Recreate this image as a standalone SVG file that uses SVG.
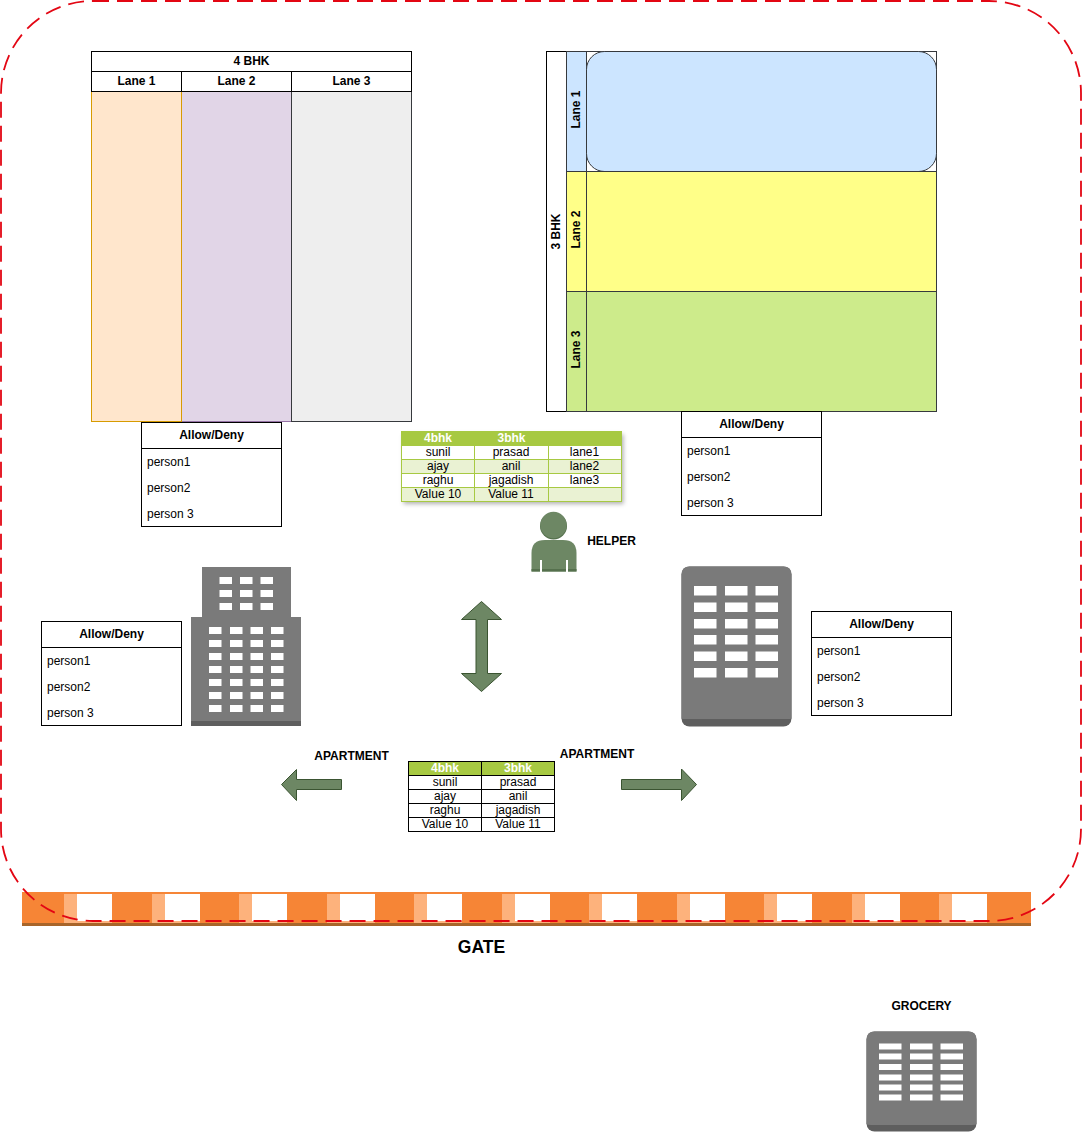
<svg xmlns="http://www.w3.org/2000/svg" width="1082" height="1132" viewBox="0 0 1082 1132">
<style>
text{font-family:"Liberation Sans",Arial,sans-serif;font-size:12px;fill:#000;text-anchor:middle}
.b{font-weight:bold}
.l{text-anchor:start}
.w{fill:#fff;font-weight:bold}
.ln{stroke:#000;fill:none}
.box{fill:#fff;stroke:#000}
.ar{fill:#6d8764;stroke:#3a5431;stroke-width:1}
.bg{fill:#7a7a7a}
.bd{fill:#5e5e5e}
.win{fill:#fff}
.gt{fill:#fff;stroke:#a7c942}
</style>
<defs>
<filter id="sh" x="-5%" y="-10%" width="110%" height="125%"><feDropShadow dx="2" dy="3" stdDeviation="2" flood-color="#000" flood-opacity="0.3"/></filter>
<g id="allow">
<rect class="box" x="0" y="0" width="140" height="104"/>
<line class="ln" x1="0" y1="26" x2="140" y2="26"/>
<text class="b" x="70" y="16">Allow/Deny</text>
<text class="l" x="5.500" y="43">person1</text>
<text class="l" x="5.500" y="69">person2</text>
<text class="l" x="5.500" y="95">person 3</text>
</g>
</defs>

<g id="gate">
<rect x="22" y="892" width="1009" height="34" fill="#f68536"/>
<rect x="22" y="923" width="1009" height="3" fill="#a8652a"/>
<g fill="#fdb27c">
<rect x="64" y="894" width="48" height="29"/><rect x="152" y="894" width="48" height="29"/><rect x="239" y="894" width="48" height="29"/><rect x="327" y="894" width="48" height="29"/><rect x="414" y="894" width="48" height="29"/><rect x="502" y="894" width="48" height="29"/><rect x="589" y="894" width="48" height="29"/><rect x="677" y="894" width="48" height="29"/><rect x="764" y="894" width="48" height="29"/><rect x="852" y="894" width="48" height="29"/><rect x="939" y="894" width="48" height="29"/>
</g>
<g fill="#fff">
<rect x="77" y="894" width="35" height="27"/><rect x="165" y="894" width="35" height="27"/><rect x="252" y="894" width="35" height="27"/><rect x="340" y="894" width="35" height="27"/><rect x="427" y="894" width="35" height="27"/><rect x="515" y="894" width="35" height="27"/><rect x="602" y="894" width="35" height="27"/><rect x="690" y="894" width="35" height="27"/><rect x="777" y="894" width="35" height="27"/><rect x="865" y="894" width="35" height="27"/><rect x="952" y="894" width="35" height="27"/>
</g>
<text x="481.500" y="953" class="b" style="font-size:17.500px">GATE</text>
</g>

<g id="boundary">
<rect x="1" y="1" width="1080" height="920" rx="92" ry="92" fill="none" stroke="#e30613" stroke-width="1.800" stroke-dasharray="16 8"/>
</g>

<g id="bhk4">
<rect x="181.500" y="91.500" width="110" height="330" fill="#e1d5e7" stroke="#9673a6"/>
<rect x="291.500" y="91.500" width="120" height="330" fill="#eeeeee" stroke="#36393d"/>
<rect x="91.500" y="91.500" width="90" height="330" fill="#ffe6cc" stroke="#d79b00"/>
<rect class="box" x="91.500" y="51.500" width="320" height="20"/>
<rect class="box" x="91.500" y="71.500" width="90" height="20"/>
<rect class="box" x="181.500" y="71.500" width="110" height="20"/>
<rect class="box" x="291.500" y="71.500" width="120" height="20"/>
<text class="b" x="251.500" y="65">4 BHK</text>
<text class="b" x="136.500" y="85">Lane 1</text>
<text class="b" x="236.500" y="85">Lane 2</text>
<text class="b" x="351.500" y="85">Lane 3</text>
</g>

<g id="bhk3">
<rect class="box" x="546.500" y="51.500" width="390" height="360"/>
<rect x="566.500" y="51.500" width="20" height="120" fill="#cce5ff" stroke="#36393d"/>
<rect x="566.500" y="171.500" width="20" height="120" fill="#ffff88" stroke="#36393d"/>
<rect x="566.500" y="291.500" width="20" height="120" fill="#cdeb8b" stroke="#36393d"/>
<rect x="586.500" y="51.500" width="350" height="120" fill="#fff" stroke="#36393d"/>
<rect x="586.500" y="51.500" width="350" height="120" rx="18" ry="18" fill="#cce5ff" stroke="#36393d"/>
<rect x="586.500" y="171.500" width="350" height="120" fill="#ffff88" stroke="#36393d"/>
<rect x="586.500" y="291.500" width="350" height="120" fill="#cdeb8b" stroke="#36393d"/>
<text class="b" transform="translate(560 231.500) rotate(-90)">3 BHK</text>
<text class="b" transform="translate(580 109.500) rotate(-90)">Lane 1</text>
<text class="b" transform="translate(580 229.500) rotate(-90)">Lane 2</text>
<text class="b" transform="translate(580 349.500) rotate(-90)">Lane 3</text>
</g>

<g id="allow1"><use href="#allow" x="141.500" y="422.500"/></g>
<g id="allow2"><use href="#allow" x="681.500" y="411.500"/></g>
<g id="allow3"><use href="#allow" x="811.500" y="611.500"/></g>
<g id="allow4"><use href="#allow" x="41.500" y="621.500"/></g>

<g id="table1">
<g filter="url(#sh)">
<rect x="401.500" y="431.500" width="220" height="69.500" fill="#fff"/>
</g>
<rect x="401.500" y="431.500" width="220" height="14" fill="#a7c942" stroke="#a7c942"/>
<rect class="gt" x="401.500" y="445.500" width="220" height="14"/>
<rect x="401.500" y="459.500" width="220" height="14" fill="#eaf2d3" stroke="#a7c942"/>
<rect class="gt" x="401.500" y="473.500" width="220" height="14"/>
<rect x="401.500" y="487.500" width="220" height="14" fill="#eaf2d3" stroke="#a7c942"/>
<line x1="474.500" y1="431.500" x2="474.500" y2="501.500" stroke="#a7c942"/>
<line x1="548.500" y1="431.500" x2="548.500" y2="501.500" stroke="#a7c942"/>
<text class="w" x="438" y="441.500">4bhk</text>
<text class="w" x="511.500" y="441.500">3bhk</text>
<text x="438" y="455.500">sunil</text><text x="511" y="455.500">prasad</text><text x="584.500" y="455.500">lane1</text>
<text x="438" y="469.500">ajay</text><text x="511" y="469.500">anil</text><text x="584.500" y="469.500">lane2</text>
<text x="438" y="483.500">raghu</text><text x="511" y="483.500">jagadish</text><text x="584.500" y="483.500">lane3</text>
<text x="438" y="497.500">Value 10</text><text x="511" y="497.500">Value 11</text>
</g>

<g id="helper">
<circle cx="553.500" cy="526" r="13.500" fill="#55704d"/>
<circle cx="553.500" cy="525" r="13.200" fill="#6d8764"/>
<path d="M531.500 571.500V553Q531.500 540 545 540H563Q576.500 540 576.500 553V571.500Z" fill="#6d8764"/>
<rect x="531.500" y="569" width="45" height="2.500" fill="#55704d"/>
<rect x="540" y="560" width="2" height="12" fill="#fff"/>
<rect x="566" y="560" width="2" height="12" fill="#fff"/>
<text class="b" x="611.500" y="545">HELPER</text>
</g>

<g id="building-left">
<rect class="bg" x="202" y="567" width="89" height="51"/>
<rect class="bg" x="191" y="617" width="110" height="109"/>
<rect class="bd" x="191" y="721" width="110" height="5"/>
<g class="win">
<rect x="219.500" y="577" width="12.500" height="7"/><rect x="240" y="577" width="12.500" height="7"/><rect x="260.500" y="577" width="12.500" height="7"/>
<rect x="219.500" y="590" width="12.500" height="7"/><rect x="240" y="590" width="12.500" height="7"/><rect x="260.500" y="590" width="12.500" height="7"/>
<rect x="219.500" y="603" width="12.500" height="7"/><rect x="240" y="603" width="12.500" height="7"/><rect x="260.500" y="603" width="12.500" height="7"/>
<rect x="209" y="627" width="12.500" height="7"/><rect x="230" y="627" width="12.500" height="7"/><rect x="250.500" y="627" width="12.500" height="7"/><rect x="271" y="627" width="12.500" height="7"/>
<rect x="209" y="640" width="12.500" height="7"/><rect x="230" y="640" width="12.500" height="7"/><rect x="250.500" y="640" width="12.500" height="7"/><rect x="271" y="640" width="12.500" height="7"/>
<rect x="209" y="653" width="12.500" height="7"/><rect x="230" y="653" width="12.500" height="7"/><rect x="250.500" y="653" width="12.500" height="7"/><rect x="271" y="653" width="12.500" height="7"/>
<rect x="209" y="666" width="12.500" height="7"/><rect x="230" y="666" width="12.500" height="7"/><rect x="250.500" y="666" width="12.500" height="7"/><rect x="271" y="666" width="12.500" height="7"/>
<rect x="209" y="679" width="12.500" height="7"/><rect x="230" y="679" width="12.500" height="7"/><rect x="250.500" y="679" width="12.500" height="7"/><rect x="271" y="679" width="12.500" height="7"/>
<rect x="209" y="692" width="12.500" height="7"/><rect x="230" y="692" width="12.500" height="7"/><rect x="250.500" y="692" width="12.500" height="7"/><rect x="271" y="692" width="12.500" height="7"/>
<rect x="209" y="705" width="12.500" height="7"/><rect x="230" y="705" width="12.500" height="7"/><rect x="250.500" y="705" width="12.500" height="7"/><rect x="271" y="705" width="12.500" height="7"/>
</g>
</g>

<g id="building-right">
<rect class="bd" x="681.500" y="566.500" width="110" height="160" rx="8"/>
<path class="bg" d="M689.500 566.500H783.500Q791.500 566.500 791.500 574.500V718.500Q791.500 719 783.500 719H689.500Q681.500 719 681.500 718.500V574.500Q681.500 566.500 689.500 566.500Z"/>
<g class="win">
<rect x="694" y="586" width="22.500" height="9.500"/><rect x="725" y="586" width="22.500" height="9.500"/><rect x="755.500" y="586" width="22.500" height="9.500"/>
<rect x="694" y="602.500" width="22.500" height="9.500"/><rect x="725" y="602.500" width="22.500" height="9.500"/><rect x="755.500" y="602.500" width="22.500" height="9.500"/>
<rect x="694" y="619" width="22.500" height="9.500"/><rect x="725" y="619" width="22.500" height="9.500"/><rect x="755.500" y="619" width="22.500" height="9.500"/>
<rect x="694" y="635" width="22.500" height="9.500"/><rect x="725" y="635" width="22.500" height="9.500"/><rect x="755.500" y="635" width="22.500" height="9.500"/>
<rect x="694" y="651.500" width="22.500" height="9.500"/><rect x="725" y="651.500" width="22.500" height="9.500"/><rect x="755.500" y="651.500" width="22.500" height="9.500"/>
<rect x="694" y="668" width="22.500" height="9.500"/><rect x="725" y="668" width="22.500" height="9.500"/><rect x="755.500" y="668" width="22.500" height="9.500"/>
</g>
</g>

<g id="grocery">
<rect class="bd" x="866.500" y="1031.500" width="110" height="100" rx="8"/>
<path class="bg" d="M874.500 1031.500H968.500Q976.500 1031.500 976.500 1039.500V1124Q976.500 1125 968.500 1125H874.500Q866.500 1125 866.500 1124V1039.500Q866.500 1031.500 874.500 1031.500Z"/>
<g class="win">
<rect x="879" y="1043.500" width="22.500" height="6"/><rect x="910" y="1043.500" width="22.500" height="6"/><rect x="940.500" y="1043.500" width="22.500" height="6"/>
<rect x="879" y="1053.500" width="22.500" height="6"/><rect x="910" y="1053.500" width="22.500" height="6"/><rect x="940.500" y="1053.500" width="22.500" height="6"/>
<rect x="879" y="1064" width="22.500" height="6"/><rect x="910" y="1064" width="22.500" height="6"/><rect x="940.500" y="1064" width="22.500" height="6"/>
<rect x="879" y="1074.500" width="22.500" height="6"/><rect x="910" y="1074.500" width="22.500" height="6"/><rect x="940.500" y="1074.500" width="22.500" height="6"/>
<rect x="879" y="1084.500" width="22.500" height="6"/><rect x="910" y="1084.500" width="22.500" height="6"/><rect x="940.500" y="1084.500" width="22.500" height="6"/>
<rect x="879" y="1094.500" width="22.500" height="6"/><rect x="910" y="1094.500" width="22.500" height="6"/><rect x="940.500" y="1094.500" width="22.500" height="6"/>
</g>
<text class="b" x="921.500" y="1010">GROCERY</text>
</g>

<g id="table2">
<rect x="408.500" y="761.500" width="146" height="14" fill="#a7c942" stroke="#000"/>
<rect class="box" x="408.500" y="775.500" width="146" height="14"/>
<rect class="box" x="408.500" y="789.500" width="146" height="14"/>
<rect class="box" x="408.500" y="803.500" width="146" height="14"/>
<rect class="box" x="408.500" y="817.500" width="146" height="14"/>
<line class="ln" x1="481.500" y1="761.500" x2="481.500" y2="831.500"/>
<text class="w" x="445" y="771.500">4bhk</text>
<text class="w" x="518" y="771.500">3bhk</text>
<text x="445" y="785.500">sunil</text><text x="518" y="785.500">prasad</text>
<text x="445" y="799.500">ajay</text><text x="518" y="799.500">anil</text>
<text x="445" y="813.500">raghu</text><text x="518" y="813.500">jagadish</text>
<text x="445" y="827.500">Value 10</text><text x="518" y="827.500">Value 11</text>
</g>

<g id="connectors">
<path class="ar" d="M481.500 601.500L501.500 619.500H487.500V673.500H501.500L481.500 691.500L461.500 673.500H476V619.500H461.500Z"/>
<path class="ar" d="M281.500 784.500L296.500 769.500V779.500H341.500V789.500H296.500V800.500Z"/>
<path class="ar" d="M696.500 784.500L681.500 769V779.500H621.500V789.500H681.500V800.500Z"/>
<text class="b" x="351.500" y="760">APARTMENT</text>
<text class="b" x="597" y="758">APARTMENT</text>
</g>
</svg>
